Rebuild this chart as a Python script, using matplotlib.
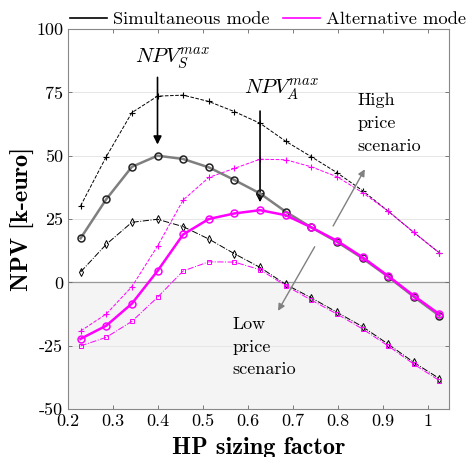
import matplotlib
matplotlib.use("Agg")
import matplotlib.pyplot as plt
import numpy as np

plt.rcParams['font.family'] = 'serif'
plt.rcParams['font.serif'] = ['cmr10']
plt.rcParams['mathtext.fontset'] = 'cm'
plt.rcParams['axes.formatter.use_mathtext'] = True

# HP sizing factor
hp = [0.228, 0.285, 0.342, 0.399, 0.456, 0.513, 0.570, 0.627,
      0.684, 0.741, 0.798, 0.855, 0.912, 0.969, 1.026]

# simultaneous mode (k-euro)
sim_high = [30.2, 49.6, 67.0, 73.5, 73.9, 71.4, 67.4, 62.8,
            55.7, 49.6, 43.3, 36.2, 28.1, 19.7, 11.6]
sim_mid = [17.4, 32.8, 45.6, 50.0, 48.7, 45.4, 40.4, 35.1,
           27.9, 21.7, 16.0, 9.5, 2.2, -5.7, -13.2]
sim_low = [4.1, 15.0, 23.7, 24.9, 22.0, 17.1, 11.3, 5.9,
           -0.8, -6.1, -11.8, -17.5, -24.4, -31.6, -38.0]

# alternative mode (k-euro)
alt_high = [-19.2, -12.5, -1.7, 14.3, 32.5, 41.4, 45.0, 48.6,
            48.4, 45.6, 41.7, 35.4, 28.1, 19.7, 11.6]
alt_mid = [-22.3, -17.1, -8.4, 4.5, 18.9, 25.0, 27.2, 28.5,
           26.5, 21.7, 16.4, 9.9, 2.5, -5.3, -12.6]
alt_low = [-25.1, -21.7, -15.4, -5.9, 4.5, 8.1, 8.0, 5.0,
           -1.3, -7.0, -12.5, -18.4, -25.1, -32.3, -38.8]

mag = '#ff00ff'

fig = plt.figure(figsize=(4.74, 4.57), dpi=100)
ax = fig.add_axes([0.1435, 0.105, 0.8045, 0.8315])

ax.axhspan(-50, 0, color='#f4f4f4', zorder=0)
ax.axhline(0, color='#999999', lw=0.9, zorder=1)
for yy in [-25, 25, 50, 75]:
    ax.axhline(yy, color='#e6e6e6', lw=0.7, zorder=0.5)

ax.plot(hp, sim_high, color='black', ls='--', lw=0.7, marker='+', ms=5, mew=0.8, zorder=3)
ax.plot(hp, alt_high, color=mag, ls='--', lw=0.7, marker='+', ms=5, mew=0.8, zorder=3)
ax.plot(hp, sim_mid, color='#7f7f7f', ls='-', lw=1.8, marker='o', ms=5, mfc='none',
        mec='#222222', mew=1.1, zorder=4)
ax.plot(hp, alt_mid, color=mag, ls='-', lw=1.8, marker='o', ms=5, mfc='none',
        mec=mag, mew=1.1, zorder=5)
ax.plot(hp, sim_low, color='black', ls='-.', lw=0.7, marker='d', ms=4, mfc='none',
        mew=0.7, zorder=3)
ax.plot(hp, alt_low, color=mag, ls='-.', lw=0.7, marker='s', ms=3.5, mfc='none',
        mew=0.7, zorder=3)

# legend entries
ax.plot([], [], color='black', lw=1.2, label='Simultaneous mode')
ax.plot([], [], color=mag, lw=1.2, label='Alternative mode')
h, l = ax.get_legend_handles_labels()
ax.legend(h, l, loc='lower left', bbox_to_anchor=(0.0, 1.0), ncol=2,
          frameon=False, fontsize=13.3, handlelength=2.0, columnspacing=0.7,
          handletextpad=0.35, borderaxespad=0, borderpad=0.1)

# annotations
ax.annotate('', xy=(hp[3], 53.3), xytext=(hp[3], 82),
            arrowprops=dict(arrowstyle='-|>', color='black', lw=1.2, mutation_scale=12))
ax.text(0.433, 83.5, r'$NPV_S^{max}$', ha='center', va='bottom', fontsize=15)
ax.annotate('', xy=(hp[7], 30.5), xytext=(hp[7], 68.7),
            arrowprops=dict(arrowstyle='-|>', color='black', lw=1.2, mutation_scale=12))
ax.text(0.674, 71, r'$NPV_A^{max}$', ha='center', va='bottom', fontsize=15)

ax.annotate('', xy=(0.863, 45.6), xytext=(0.7865, 21.3),
            arrowprops=dict(arrowstyle='-|>', color='#808080', lw=1.0, mutation_scale=10))
ax.annotate('', xy=(0.664, -12.2), xytext=(0.7516, 15.0),
            arrowprops=dict(arrowstyle='-|>', color='#808080', lw=1.0, mutation_scale=10))
ax.text(0.843, 74.8, 'High\nprice\nscenario', ha='left', va='top', fontsize=13,
        linespacing=1.6)
ax.text(0.565, -13.5, 'Low\nprice\nscenario', ha='left', va='top', fontsize=13,
        linespacing=1.6)

ax.set_xlim(0.2, 1.048)
ax.set_ylim(-50, 100)
ax.set_xticks([0.2, 0.3, 0.4, 0.5, 0.6, 0.7, 0.8, 0.9, 1.0])
ax.set_xticklabels(['0.2', '0.3', '0.4', '0.5', '0.6', '0.7', '0.8', '0.9', '1'])
ax.set_yticks([-50, -25, 0, 25, 50, 75, 100])
ax.set_yticklabels(['-50', '-25', '0', '25', '50', '75', '100'])
ax.tick_params(direction='in', top=True, right=True, length=3, labelsize=13,
               color='#666666', width=0.6)
for s in ax.spines.values():
    s.set_color('#888888')
    s.set_linewidth(0.8)

ax.set_xlabel('HP sizing factor', fontsize=17.5, family='cmb10', labelpad=5.5)
ax.set_ylabel('NPV [k-euro]', fontsize=17.5, family='cmb10', labelpad=1)

fig.savefig('out.png', dpi=100)
